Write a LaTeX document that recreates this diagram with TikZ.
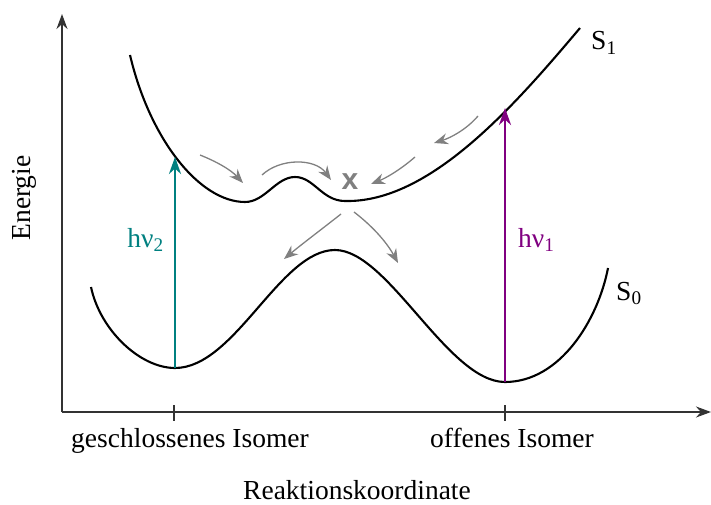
\documentclass[tikz,border=0pt]{standalone}
\usepackage{fontspec}
\setmainfont{Liberation Serif}
\setsansfont{Liberation Sans}
\usetikzlibrary{arrows.meta}
\definecolor{tealc}{RGB}{0,128,128}
\definecolor{purpc}{RGB}{128,0,128}
\definecolor{grayc}{RGB}{128,128,128}
\begin{document}
\begin{tikzpicture}[x=1pt,y=-1pt,
  axis/.style={line width=1.5pt,draw=black!80,-{Stealth[length=15pt,width=11pt]}},
  curve/.style={line width=2.1pt,black,line join=round},
  excite/.style={line width=2.8pt,-{Stealth[length=17pt,width=12pt]}},
  relax/.style={line width=1.3pt,grayc,-{Stealth[length=14pt,width=11pt]}},
  lbl/.style={font=\fontsize{27.5}{30}\selectfont,inner sep=0pt},
  tick/.style={line width=1.5pt,draw=black!80}]
\useasboundingbox (0,0) rectangle (711,505);
% axes
\coordinate (O) at (62,412);
\coordinate (ytop) at (62,14);
\coordinate (xend) at (711,412);
\draw[axis] (O) -- (ytop);
\draw[axis] (O) -- (xend);
\coordinate (t1a) at (174,405); \coordinate (t1b) at (174,421);
\coordinate (t2a) at (505,405); \coordinate (t2b) at (505,421);
\draw[tick] (t1a) -- (t1b);
\draw[tick] (t2a) -- (t2b);
\node[lbl,anchor=base] (geschl) at (190,447) {geschlossenes Isomer};
\node[lbl,anchor=base] (offen) at (512,447) {offenes Isomer};
\node[lbl,anchor=base] (rk) at (357,499) {Reaktionskoordinate};
\node[lbl,anchor=base,rotate=90] (en) at (30,198) {Energie};
% S1
\coordinate (s1a) at (130,55);
\coordinate (s1b) at (245,202);
\coordinate (s1c) at (295,177);
\coordinate (s1d) at (345,201);
\coordinate (s1e) at (580,28);
\draw[curve] (s1a) .. controls (150,140) and (200,202) .. (s1b)
  .. controls (265,202) and (276,177) .. (s1c)
  .. controls (314,177) and (322,201) .. (s1d)
  .. controls (430,203) and (515,105) .. (s1e);
% S0
\coordinate (s0a) at (91,287);
\coordinate (s0b) at (175,368);
\coordinate (s0c) at (335,250);
\coordinate (s0d) at (505,382);
\coordinate (s0e) at (608,268);
\draw[curve] (s0a) .. controls (100,330) and (140,368) .. (s0b)
  .. controls (235,368) and (280,250) .. (s0c)
  .. controls (388,250) and (448,382) .. (s0d)
  .. controls (560,382) and (598,320) .. (s0e);
\node[lbl,anchor=base west] (S1) at (591,50) {S\textsubscript{1}};
\node[lbl,anchor=base west] (S0) at (616,300) {S\textsubscript{0}};
% excitation arrows
\coordinate (g1) at (175,157);
\coordinate (o1) at (505,108);
\draw[excite,tealc] (s0b) -- (g1);
\draw[excite,purpc] (s0d) -- (o1);
\node[lbl,tealc,anchor=base east] (hv2) at (164,247) {hν\textsubscript{2}};
\node[lbl,purpc,anchor=base west] (hv1) at (518,247) {hν\textsubscript{1}};
% relaxation arrows
\coordinate (a1s) at (200,155); \coordinate (a1e) at (243,183);
\coordinate (a2s) at (262,175); \coordinate (a2e) at (331,180);
\coordinate (a3s) at (478,116); \coordinate (a3e) at (434,143);
\coordinate (a4s) at (415,157); \coordinate (a4e) at (371,184);
\coordinate (a5s) at (341,214); \coordinate (a5e) at (284,259);
\coordinate (a6s) at (354,212); \coordinate (a6e) at (398,263);
\draw[relax] (a1s) .. controls (215,161) and (230,169) .. (a1e);
\draw[relax] (a2s) .. controls (280,158) and (315,158) .. (a2e);
\draw[relax] (a3s) .. controls (466,130) and (450,138) .. (a3e);
\draw[relax] (a4s) .. controls (400,170) and (386,178) .. (a4e);
\draw[relax] (a5s) .. controls (322,229) and (302,244) .. (a5e);
\draw[relax] (a6s) .. controls (371,225) and (386,241) .. (a6e);
\node[inner sep=0pt,grayc,font=\sffamily\bfseries\fontsize{30}{32}\selectfont] (ci) at (350,182) {x};
\end{tikzpicture}
\end{document}
